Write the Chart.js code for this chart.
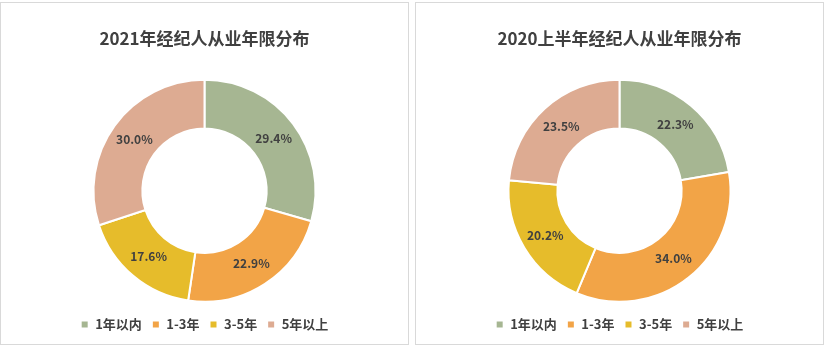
<!DOCTYPE html>
<html>
<head>
<meta charset="utf-8">
<script src="https://cdn.jsdelivr.net/npm/chart.js@4"></script>
<style>
  body { margin: 0; background: #fff; width: 827px; height: 353px; position: relative; overflow: hidden; }
  .panel { position: absolute; top: 2px; width: 409px; height: 343px; border: 1px solid #d9d9d9; box-sizing: border-box; }
  #p1 { left: 0; }
  #p2 { left: 415px; }
</style>
</head>
<body>
<div class="panel" id="p1"><canvas id="c1"></canvas></div>
<div class="panel" id="p2"><canvas id="c2"></canvas></div>
<script>
// categories and values
const categories = ['1年以内', '1-3年', '3-5年', '5年以上'];
const values2021 = [29.4, 22.9, 17.6, 30.0];
const values2020h1 = [22.3, 34.0, 20.2, 23.5];
const colors = ['#a6b692', '#f2a447', '#e6bc2b', '#ddab92'];

// Draw percentage labels in the middle of each arc
const arcLabels = {
    id: 'arcLabels',
    afterDatasetsDraw(chart) {
        const ctx = chart.ctx;
        const meta = chart.getDatasetMeta(0);
        ctx.save();
        ctx.font = 'bold 12px "Noto Sans CJK SC", sans-serif';
        ctx.fillStyle = '#404040';
        ctx.textAlign = 'center';
        ctx.textBaseline = 'middle';
        meta.data.forEach((arc, i) => {
            const p = arc.tooltipPosition();
            ctx.fillText(chart.data.datasets[0].data[i].toFixed(1) + '%', p.x, p.y);
        });
        ctx.restore();
    }
};

function makeChart(id, title, values) {
    const ctx = document.getElementById(id).getContext('2d');
    return new Chart(ctx, {
        type: 'doughnut',
        data: {
            labels: categories,
            datasets: [{
                data: values,
                backgroundColor: colors,
                borderColor: '#ffffff',
                borderWidth: 2
            }]
        },
        options: {
            responsive: true,
            maintainAspectRatio: false,
            animation: false,
            radius: 111,
            cutout: '56%',
            layout: {
                padding: { top: 9, bottom: 3 }
            },
            plugins: {
                title: {
                    display: true,
                    text: title,
                    color: '#404040',
                    font: { size: 17, weight: 'bold', family: '"Noto Sans CJK SC", sans-serif' },
                    padding: { top: 16, bottom: 25 }
                },
                legend: {
                    position: 'bottom',
                    labels: {
                        boxWidth: 8,
                        boxHeight: 8,
                        color: '#404040',
                        padding: 10,
                        font: { size: 13, weight: 'bold', family: '"Noto Sans CJK SC", sans-serif' }
                    }
                },
                tooltip: { enabled: false }
            }
        },
        plugins: [arcLabels]
    });
}

makeChart('c1', '2021年经纪人从业年限分布', values2021);
makeChart('c2', '2020上半年经纪人从业年限分布', values2020h1);
</script>
</body>
</html>
